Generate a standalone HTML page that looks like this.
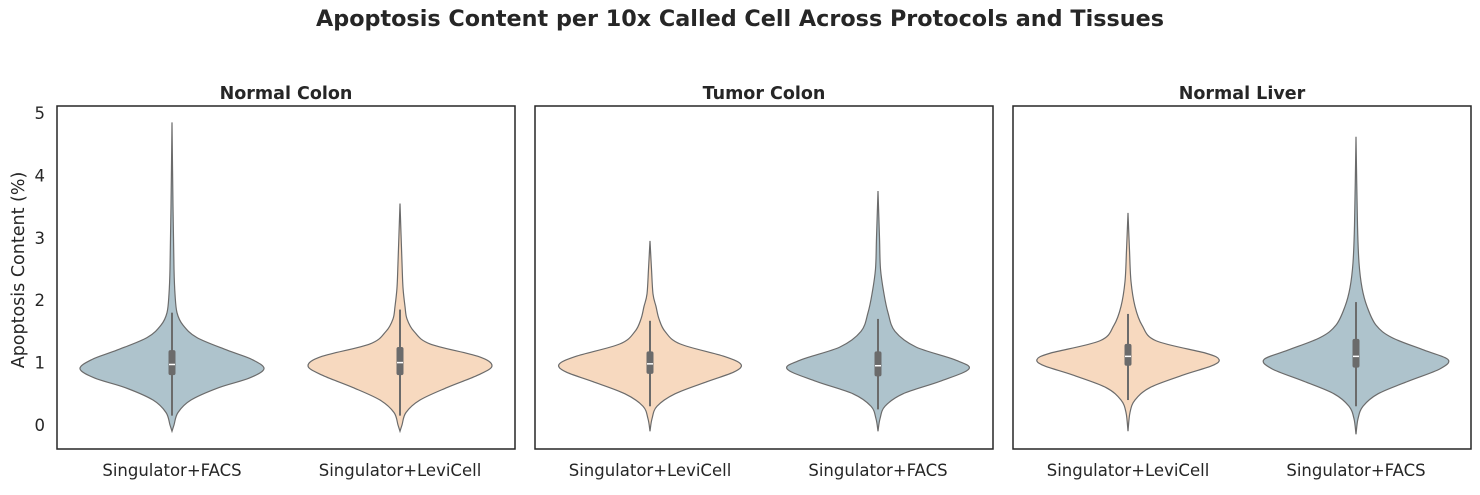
<!DOCTYPE html>
<html><head><meta charset="utf-8"><style>
body{margin:0;background:#fff;font-family:"Liberation Sans","DejaVu Sans",sans-serif;}
svg text{fill:#262626;font-family:"DejaVu Sans","Liberation Sans",sans-serif;}
</style></head><body>
<svg id="chart" width="1480" height="490" xmlns="http://www.w3.org/2000/svg">
<text x="740" y="26" text-anchor="middle" font-size="22" font-weight="bold" textLength="848" lengthAdjust="spacingAndGlyphs">Apoptosis Content per 10x Called Cell Across Protocols and Tissues</text>
<text transform="translate(24,270) rotate(-90)" text-anchor="middle" font-size="17.5">Apoptosis Content (%)</text>
<g id="plots"></g>
</svg>
<script>
const panelTitles=["Normal Colon","Tumor Colon","Normal Liver"];
const categories=[["Singulator+FACS","Singulator+LeviCell"],["Singulator+LeviCell","Singulator+FACS"],["Singulator+LeviCell","Singulator+FACS"]];
const yTicks=[0,1,2,3,4,5];
const densities=[
[[-0.1,0],[0,2],[0.2,6],[0.4,19],[0.6,47],[0.75,77],[0.9,92],[1.05,80],[1.2,55],[1.4,25],[1.6,11],[1.8,5],[2.1,3],[2.5,2],[3.5,1],[4.85,0]],
[[-0.1,0],[0,2],[0.2,6],[0.4,20],[0.6,47],[0.8,78],[0.95,92],[1.1,78],[1.3,30],[1.5,14],[1.7,7],[1.9,5],[2.2,3],[2.6,2],[3.55,0]],
[[-0.1,0],[0.1,2],[0.3,7],[0.5,25],[0.7,58],[0.85,84],[0.97,91],[1.1,74],[1.3,30],[1.5,15],[1.7,9],[1.9,6],[2.1,3],[2.5,1.5],[2.95,0]],
[[-0.1,0],[0.1,2],[0.3,7],[0.5,25],[0.7,62],[0.9,91],[1.05,76],[1.25,38],[1.5,17],[1.8,10],[2.1,6],[2.5,2.5],[3,1.5],[3.75,0]],
[[-0.1,0],[0.2,2],[0.4,7],[0.6,22],[0.8,55],[0.95,84],[1.05,91],[1.15,78],[1.35,28],[1.6,14],[1.9,7],[2.3,3],[2.8,1.5],[3.4,0]],
[[-0.15,0],[0.1,2],[0.3,7],[0.5,22],[0.7,52],[0.9,84],[1.05,92],[1.2,68],[1.4,36],[1.6,20],[1.9,11],[2.2,6],[2.6,3],[3.2,1.5],[4.62,0]]
];
const q1s=[0.8,0.8,0.82,0.78,0.95,0.92];
const q3s=[1.2,1.25,1.18,1.18,1.3,1.38];
const medians=[0.97,1.0,0.98,0.95,1.1,1.1];
const whiskLo=[0.15,0.15,0.3,0.25,0.4,0.3];
const whiskHi=[1.8,1.85,1.67,1.7,1.78,1.97];
const colors=["#aec3cc","#f7d9bf","#f7d9bf","#aec3cc","#f7d9bf","#aec3cc"];

const NS="http://www.w3.org/2000/svg";
const g=document.getElementById('plots');
const PT=106,PB=449,PW=458,PX=[57,535,1013];
const y=v=>425-v*62.4;
function mk(t,a,p){const e=document.createElementNS(NS,t);for(const k in a)e.setAttribute(k,a[k]);(p||g).appendChild(e);return e;}
function smooth(pts){let d="M"+pts[0][0]+","+pts[0][1];for(let i=0;i<pts.length-1;i++){const p0=pts[Math.max(i-1,0)],p1=pts[i],p2=pts[i+1],p3=pts[Math.min(i+2,pts.length-1)];
d+=` C${p1[0]+(p2[0]-p0[0])/6},${p1[1]+(p2[1]-p0[1])/6} ${p2[0]-(p3[0]-p1[0])/6},${p2[1]-(p3[1]-p1[1])/6} ${p2[0]},${p2[1]}`;}return d;}
panelTitles.forEach((t,p)=>{
  const x0=PX[p];
  const ttl=mk('text',{x:x0+PW/2,y:99,'text-anchor':'middle','font-size':17.5,'font-weight':'bold'});ttl.textContent=t;
  
  if(p===0){yTicks.forEach(v=>{const tx=mk('text',{x:45,y:y(v)+6,'text-anchor':'end','font-size':16.5});tx.textContent=v;
    });}
  categories[p].forEach((c,j)=>{
    const i=p*2+j;const cx=x0+115+j*228;
    const d=densities[i];
    const right=d.map(a=>[cx+a[1],y(a[0])]);
    const left=d.slice().reverse().map(a=>[cx-a[1],y(a[0])]);
    let path=smooth(right)+" L"+left[0][0]+","+left[0][1]+smooth(left).replace(/^M[^C]*/,"")+"Z";
    const v=mk('path',{d:path,fill:colors[i],stroke:'#6b6b6b','stroke-width':1.2});
    
    const w=mk('line',{x1:cx,x2:cx,y1:y(whiskLo[i]),y2:y(whiskHi[i]),stroke:'#6b6b6b','stroke-width':2});
    
    const b=mk('rect',{x:cx-3.5,y:y(q3s[i]),width:7,height:y(q1s[i])-y(q3s[i]),rx:2,fill:'#6b6b6b'});
    
    const m=mk('line',{x1:cx-3,x2:cx+3,y1:y(medians[i]),y2:y(medians[i]),stroke:'#fff','stroke-width':1.5});
    
    const lb=mk('text',{x:cx,y:476,'text-anchor':'middle','font-size':16.5});lb.textContent=c;
    
  });
  const fr=mk('rect',{x:x0,y:PT,width:PW,height:PB-PT,fill:'none',stroke:'#262626','stroke-width':1.5});
  
});
</script>
</body></html>
